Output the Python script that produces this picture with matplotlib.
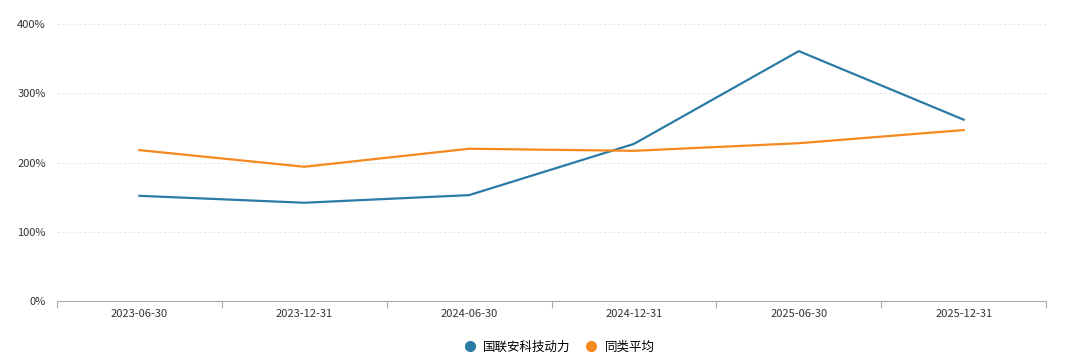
import matplotlib.pyplot as plt
from matplotlib.lines import Line2D
import numpy as np

plt.rcParams['font.family'] = ['Noto Sans CJK SC', 'DejaVu Sans']

# data
dates = ["2023-06-30", "2023-12-31", "2024-06-30", "2024-12-31", "2025-06-30", "2025-12-31"]
fund = [152, 142, 153, 227, 361, 262]
peer_avg = [218, 194, 220, 217, 228, 247]
yticks = [0, 100, 200, 300, 400]

blue = '#2b7ba6'
orange = '#f5891f'

fig = plt.figure(figsize=(10.9, 3.55), dpi=100)
ax = fig.add_axes([0.0523, 0.152, 0.9074, 0.78])

x = np.arange(len(dates))
ax.plot(x, fund, color=blue, lw=1.6)
ax.plot(x, peer_avg, color=orange, lw=1.6)

ax.set_xlim(-0.5, len(dates) - 0.5)
ax.set_ylim(0, 400)
ax.set_yticks(yticks)
ax.set_yticklabels([f"{v}%" for v in yticks], fontsize=8, color='#333333')
ax.set_xticks(x)
ax.set_xticklabels(dates, fontsize=8, color='#333333')
ax.tick_params(axis='x', length=0, pad=6)
ax.tick_params(axis='y', length=0, pad=8)

# category boundary ticks on the bottom axis
ax.set_xticks(np.arange(len(dates) + 1) - 0.5, minor=True)
ax.tick_params(axis='x', which='minor', length=5, color='#aaaaaa', width=0.8)

for y in yticks[1:]:
    ax.axhline(y, color='#e6e6e6', lw=0.8, ls=(0, (2, 2)), zorder=0)

for s in ['top', 'right', 'left']:
    ax.spines[s].set_visible(False)
ax.spines['bottom'].set_color('#aaaaaa')

handles = [Line2D([], [], marker='o', ls='', color=blue, markersize=7),
           Line2D([], [], marker='o', ls='', color=orange, markersize=7)]
fig.legend(handles, ["国联安科技动力", "同类平均"], loc='center', bbox_to_anchor=(0.51, 0.022),
           ncol=2, frameon=False, fontsize=9, handletextpad=0.1, columnspacing=0.6)

fig.savefig('out.png', dpi=100, facecolor='white')
